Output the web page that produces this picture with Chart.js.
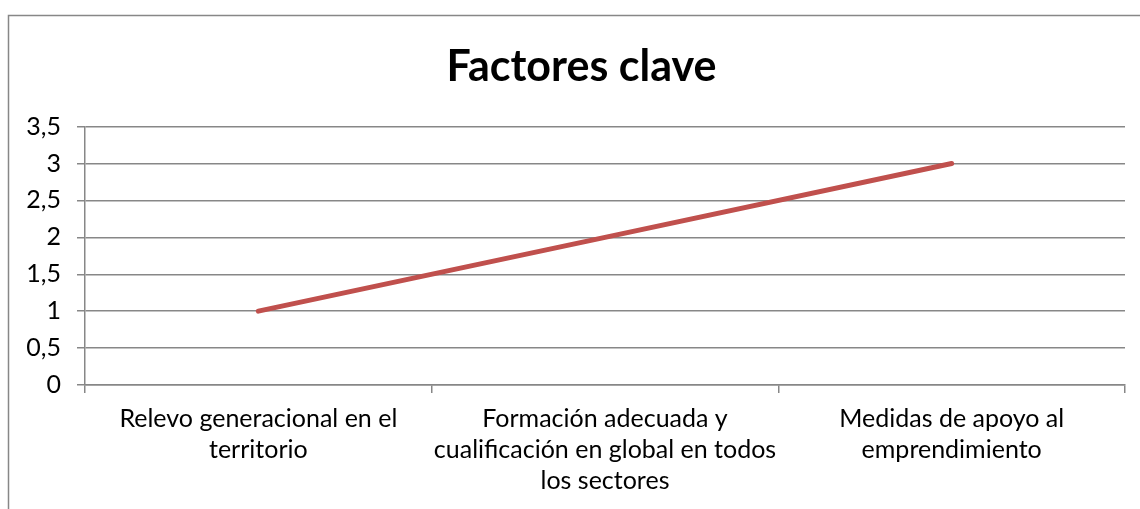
<!DOCTYPE html>
<html>
<head>
<meta charset="utf-8">
<script src="https://cdn.jsdelivr.net/npm/chart.js@4/dist/chart.umd.min.js"></script>
<style>
    html, body { margin: 0; padding: 0; background: #fff; }
    #wrap { width: 1140px; height: 509px; position: relative; }
</style>
</head>
<body>
<div id="wrap"><canvas id="lineChart" width="1140" height="509"></canvas></div>
<script>
    var categorias = [
        ['Relevo generacional en el', 'territorio'],
        ['Formación adecuada y', 'cualificación en global en todos', 'los sectores'],
        ['Medidas de apoyo al', 'emprendimiento']
    ];
    var valores = [1, 2, 3];
    var titulo = 'Factores clave';

    // marco gris del grafico (solo se ve arriba y a la izquierda)
    var marco = {
        id: 'marco',
        afterLayout: function(chart){
            // el titulo va centrado dentro del marco, no en todo el canvas
            if(chart.titleBlock){ chart.titleBlock.left = 38; }
        },
        beforeDraw: function(chart){
            var ctx = chart.ctx;
            ctx.save();
            ctx.strokeStyle = '#878787';
            ctx.lineWidth = 1.5;
            ctx.strokeRect(8.5, 15.5, 1200, 600);
            ctx.restore();
        }
    };

    const CHART = document.getElementById('lineChart');
    var lineChart = new Chart(CHART, {
        type: 'line',
        data: {
            labels: categorias,
            datasets: [
                {
                    label: titulo,
                    data: valores,
                    fill: false,
                    lineTension: 0,
                    borderColor: '#C0504D',
                    borderWidth: 5,
                    borderCapStyle: 'round',
                    pointRadius: 0,
                    pointHoverRadius: 0
                }
            ]
        },
        options: {
            responsive: false,
            animation: false,
            maintainAspectRatio: false,
            layout: { padding: { left: 0, right: 15, top: 0, bottom: 0 } },
            plugins: {
                legend: { display: false },
                tooltip: { enabled: false },
                title: {
                    display: true,
                    text: titulo,
                    color: '#000',
                    font: { family: 'Lato', size: 43, weight: 'bold', lineHeight: 1.2 },
                    padding: { top: 41, bottom: 34 }
                }
            },
            scales: {
                x: {
                    offset: true,
                    afterFit: function(scale){ scale.height = 124; },
                    grid: {
                        offset: true,
                        drawOnChartArea: false,
                        drawTicks: true,
                        tickLength: 8,
                        color: '#878787',
                        lineWidth: 1.5
                    },
                    border: { color: '#878787', width: 1.5 },
                    ticks: {
                        color: '#000',
                        padding: 10,
                        maxRotation: 0,
                        autoSkip: false,
                        font: { family: 'Lato', size: 25, lineHeight: 1.25 }
                    }
                },
                y: {
                    min: 0,
                    max: 3.5,
                    afterFit: function(scale){ scale.width = 85; },
                    grid: {
                        tickLength: 8,
                        color: '#878787',
                        lineWidth: 1.5
                    },
                    border: { color: '#878787', width: 1.5 },
                    ticks: {
                        stepSize: 0.5,
                        color: '#000',
                        padding: 16,
                        font: { family: 'Lato', size: 25 },
                        callback: function(v){ return String(v).replace('.', ','); }
                    }
                }
            }
        },
        plugins: [marco]
    });
</script>
</body>
</html>
